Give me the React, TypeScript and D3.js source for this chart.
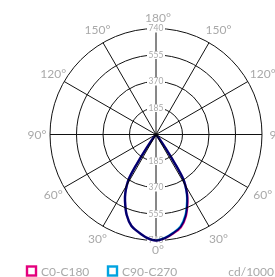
import { useEffect, useRef } from 'react';
import * as d3 from 'd3';

// gamma angles (deg from nadir) and intensities in cd/1000
const gammaAngles = [0, 5, 10, 15, 20, 25, 27.5, 30, 31.5, 33, 35, 37.5, 40, 45, 50, 60, 70, 80, 90];
const c0 = [740, 726, 700, 670, 608, 520, 470, 410, 362, 250, 112, 35, 8, 0, 0, 0, 0, 0, 0];
const c180 = [740, 724, 694, 661, 598, 512, 465, 406, 360, 250, 112, 35, 8, 0, 0, 0, 0, 0, 0];
const c90 = [740, 725, 697, 664, 601, 514, 467, 408, 361, 250, 112, 35, 8, 0, 0, 0, 0, 0, 0];
const c270 = [740, 724, 694, 661, 598, 512, 465, 406, 360, 250, 112, 35, 8, 0, 0, 0, 0, 0, 0];

const ringValues = [185, 370, 555, 740];
const spokeAngles = [30, 60, 120, 150];
const angleLabels = [
  { a: 180, text: '180°' }, { a: 150, text: '150°' }, { a: -150, text: '150°' },
  { a: 120, text: '120°' }, { a: -120, text: '120°' }, { a: 90, text: '90°' },
  { a: -90, text: '90°' }, { a: 60, text: '60°' }, { a: -60, text: '60°' },
  { a: 30, text: '30°' }, { a: -30, text: '30°' }, { a: 0, text: '0°' },
];
const legendItems = [
  { name: 'C0-C180', color: '#e4007d' },
  { name: 'C90-C270', color: '#00a3e0' },
];
const unitLabel = 'cd/1000';

function PolarChart() {
  const svgRef = useRef<SVGSVGElement>(null);

  useEffect(() => {
    const width = 275;
    const height = 277;
    const cx = 156;
    const cy = 134.5;
    const R = 106;
    const grey = '#a9a9a9';
    const font = 'Lato, sans-serif';

    const svg = d3.select(svgRef.current)
      .attr('width', width)
      .attr('height', height);
    svg.selectAll('*').remove();

    const r = d3.scaleLinear().domain([0, 740]).range([0, R]);
    const g = svg.append('g').attr('transform', `translate(${cx},${cy})`);

    // rings
    g.selectAll('circle.ring')
      .data(ringValues)
      .join('circle')
      .attr('r', d => r(d))
      .attr('fill', 'none')
      .attr('stroke', '#111')
      .attr('stroke-width', 1);

    // spokes
    g.append('line').attr('x1', -R).attr('x2', R).attr('y1', 0).attr('y2', 0)
      .attr('stroke', '#111');
    g.append('line').attr('x1', 0).attr('x2', 0).attr('y1', -R).attr('y2', R)
      .attr('stroke', '#111');
    spokeAngles.forEach(a => {
      const rad = (a * Math.PI) / 180;
      [1, -1].forEach(s => {
        g.append('line')
          .attr('x1', 0).attr('y1', 0)
          .attr('x2', s * R * Math.sin(rad))
          .attr('y2', R * Math.cos(rad))
          .attr('stroke', '#111');
      });
    });

    // ring labels top & bottom (under the curves)
    ringValues.forEach(v => {
      [-1, 1].forEach(s => {
        const y = s * r(v);
        g.append('rect')
          .attr('x', -9).attr('y', y - 4)
          .attr('width', 18).attr('height', 8)
          .attr('fill', '#fff');
        g.append('text')
          .attr('x', 0).attr('y', y)
          .attr('dy', '0.35em')
          .attr('text-anchor', 'middle')
          .attr('font-family', font)
          .attr('font-size', 8.5)
          .attr('fill', grey)
          .text(v);
      });
    });

    // curves
    const line = d3.lineRadial<[number, number]>()
      .angle(d => d[0])
      .radius(d => r(d[1]))
      .curve(d3.curveCatmullRom);

    const buildPts = (left: number[], right: number[]) => {
      const pts: [number, number][] = [];
      for (let i = gammaAngles.length - 1; i >= 0; i--) {
        pts.push([Math.PI + (gammaAngles[i] * Math.PI) / 180, left[i]]);
      }
      for (let i = 1; i < gammaAngles.length; i++) {
        pts.push([Math.PI - (gammaAngles[i] * Math.PI) / 180, right[i]]);
      }
      return pts;
    };

    const curves = [
      { pts: buildPts(c180, c0), color: legendItems[0].color },
      { pts: buildPts(c270, c90), color: legendItems[1].color },
    ];
    curves.forEach(c => {
      g.append('path')
        .attr('d', line(c.pts))
        .attr('fill', 'none')
        .attr('stroke', c.color)
        .attr('stroke-width', 2.4)
        .attr('stroke-linejoin', 'round')
        .style('mix-blend-mode', 'multiply');
    });

    // angle labels
    angleLabels.forEach(l => {
      const rad = (l.a * Math.PI) / 180;
      const lr = Math.abs(l.a) === 180 ? 117 : l.a === 0 ? 115 : 121;
      g.append('text')
        .attr('x', -lr * Math.sin(rad) + 2)
        .attr('y', lr * Math.cos(rad))
        .attr('dy', '0.35em')
        .attr('text-anchor', 'middle')
        .attr('font-family', font)
        .attr('font-size', 12)
        .attr('fill', grey)
        .text(l.text);
    });

    // legend
    const lx = d3.scalePoint<string>()
      .domain(legendItems.map(d => d.name))
      .range([26, 107]);
    const lg = svg.append('g');
    legendItems.forEach(item => {
      const x = lx(item.name) as number;
      lg.append('rect')
        .attr('x', x + 1).attr('y', 266.5)
        .attr('width', 9).attr('height', 9)
        .attr('fill', 'none')
        .attr('stroke', item.color)
        .attr('stroke-width', 2.4);
      lg.append('text')
        .attr('x', x + 15).attr('y', 275.5)
        .attr('font-family', font)
        .attr('font-size', 12)
        .attr('fill', grey)
        .text(item.name);
    });
    lg.append('text')
      .attr('x', 274).attr('y', 275.5)
      .attr('text-anchor', 'end')
      .attr('font-family', font)
      .attr('font-size', 12)
      .attr('fill', grey)
      .text(unitLabel);
  }, []);

  return <svg ref={svgRef} style={{ position: 'absolute', left: 0, top: 0 }}></svg>;
}

export default function App() {
  return <PolarChart />;
}
